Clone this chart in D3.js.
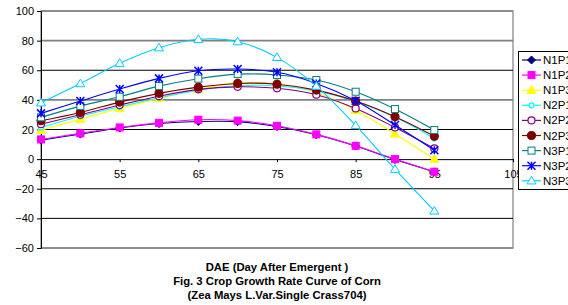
<!DOCTYPE html>
<html><head><meta charset="utf-8">
<script src="https://cdn.jsdelivr.net/npm/d3@7"></script>
<style>body{margin:0;background:#fff;}svg{display:block;font-family:"Liberation Sans",Arial,sans-serif;}</style>
</head><body>
<svg id="c" width="568" height="305"></svg>
<script>
const dae = [45,50,55,60,65,70,75,80,85,90,95];
const xTicks = [45,55,65,75,85,95,105];
const yTicks = [-60,-40,-20,0,20,40,60,80,100];
const seriesNames = ["N1P1","N1P2","N1P3","N2P1","N2P2","N2P3","N3P1","N3P2","N3P3"];
const N1P1 = [12.8,16.9,21.0,24.0,25.4,25.3,22.0,16.4,8.8,-0.3,-8.6];
const N1P2 = [13.3,17.4,21.4,24.5,26.6,26.0,22.5,16.7,9.0,0.0,-8.5];
const N1P3 = [19.5,27.0,34.2,41.0,47.0,51.5,50.5,45.0,33.0,17.0,0.0];
const N2P1 = [21.4,29.0,35.3,41.4,46.5,49.5,49.5,46.0,39.0,28.5,14.0];
const N2P2 = [23.6,30.0,36.5,42.5,47.1,48.8,47.8,43.5,34.2,21.4,7.2];
const N2P3 = [25.9,31.5,38.5,44.4,48.6,51.1,50.6,46.6,39.2,28.6,15.5];
const N3P1 = [28.2,35.8,42.1,49.3,54.3,57.4,56.8,53.4,45.5,33.8,19.6];
const N3P2 = [30.9,39.2,47.3,54.5,59.7,60.8,58.6,51.1,39.4,23.0,6.0];
const N3P3 = [38.0,51.0,64.7,75.2,80.9,79.3,68.7,49.3,22.8,-6.8,-35.0];
const titleLines = ["DAE (Day After Emergent )","Fig. 3 Crop Growth Rate Curve of Corn","(Zea Mays L.Var.Single Crass704)"];

const seriesData = [N1P1,N1P2,N1P3,N2P1,N2P2,N2P3,N3P1,N3P2,N3P3];
const styles = [
  {c:"#000080", m:"diamond", fill:true, s:4},
  {c:"#FF00FF", m:"square", fill:true, s:4},
  {c:"#FFFF00", m:"triangle", fill:true, s:4.5},
  {c:"#00FFFF", m:"circle", fill:false, s:2.5},
  {c:"#800080", m:"circle", fill:false, s:3.5},
  {c:"#800000", m:"circle", fill:true, s:4},
  {c:"#008080", m:"square", fill:false, s:4},
  {c:"#0000FF", m:"star", fill:false, s:4},
  {c:"#00CCFF", m:"triangle", fill:false, s:4.5}
];

const svg = d3.select("#c");
const L=41, R=513, T=11, B=248;
const x = d3.scaleLinear().domain([45,105]).range([L,R]);
const y = d3.scaleLinear().domain([-60,100]).range([B,T]);

svg.append("rect").attr("x",L).attr("y",T).attr("width",R-L).attr("height",B-T)
  .attr("fill","#fff").attr("stroke","#808080").attr("stroke-width",1.2);
svg.append("g").selectAll("line").data(yTicks.filter(d=>d!==0)).join("line")
  .attr("x1",L).attr("x2",R).attr("y1",d=>y(d)).attr("y2",d=>y(d))
  .attr("stroke",d=>(d===100||d===80||d===40||d===-60)?"#808080":"#000")
  .attr("stroke-width",d=>(d===100||d===80||d===40||d===-60)?1.6:1);

const yAxis = svg.append("g").attr("transform",`translate(${L},0)`)
  .call(d3.axisLeft(y).tickValues(yTicks).tickSize(4).tickPadding(3).tickFormat(d3.format("d")));
yAxis.select(".domain").attr("stroke","#000");
yAxis.selectAll("text").attr("font-size","11px").attr("fill","#000").attr("font-family","Liberation Sans, Arial, sans-serif");
const xAxis = svg.append("g").attr("transform",`translate(0,${y(0)})`)
  .call(d3.axisBottom(x).tickValues(xTicks).tickSize(3).tickPadding(8).tickFormat(d3.format("d")));
xAxis.select(".domain").attr("stroke","#000");
xAxis.selectAll("text").attr("font-size","11px").attr("fill","#000").attr("font-family","Liberation Sans, Arial, sans-serif");

function marker(g, st, px, py){
  const s = st.s;
  const fill = st.fill ? st.c : "#fff";
  if(st.m==="diamond"){
    g.append("path").attr("d",`M${px},${py-s}L${px+s},${py}L${px},${py+s}L${px-s},${py}Z`).attr("fill",fill).attr("stroke",st.c);
  } else if(st.m==="square"){
    g.append("rect").attr("x",px-s+0.5).attr("y",py-s+0.5).attr("width",2*s-1).attr("height",2*s-1).attr("fill",fill).attr("stroke",st.c);
  } else if(st.m==="triangle"){
    g.append("path").attr("d",`M${px},${py-s}L${px+s},${py+s*0.7}L${px-s},${py+s*0.7}Z`).attr("fill",fill).attr("stroke",st.c);
  } else if(st.m==="circle"){
    g.append("circle").attr("cx",px).attr("cy",py).attr("r",s).attr("fill",fill).attr("stroke",st.c).attr("stroke-width",1.2);
  } else if(st.m==="star"){
    g.append("path").attr("d",`M${px-s},${py-s}L${px+s},${py+s}M${px-s},${py+s}L${px+s},${py-s}M${px},${py-s}L${px},${py+s}`)
      .attr("stroke",st.c).attr("stroke-width",1.5).attr("fill","none");
  }
}

const line = d3.line().x((d,i)=>x(dae[i])).y(d=>y(d)).curve(d3.curveCatmullRom.alpha(0.5));
seriesData.forEach((vals,k)=>{
  const st = styles[k];
  const g = svg.append("g");
  g.append("path").datum(vals).attr("d",line).attr("fill","none").attr("stroke",st.c).attr("stroke-width",1.1);
  vals.forEach((v,i)=>marker(g, st, x(dae[i]), y(v)));
});

const lg = svg.append("g");
lg.append("rect").attr("x",518.5).attr("y",51.5).attr("width",70).attr("height",138)
  .attr("fill","#fff").attr("stroke","#000");
seriesNames.forEach((n,k)=>{
  const yy = 60 + k*15.1;
  const st = styles[k];
  lg.append("line").attr("x1",522).attr("x2",541).attr("y1",yy).attr("y2",yy).attr("stroke",st.c).attr("stroke-width",1.2);
  marker(lg, st, 531.5, yy);
  lg.append("text").attr("x",543).attr("y",yy+4).attr("font-size","11.5px").attr("fill","#000").text(n);
});

svg.append("g").selectAll("text").data(titleLines).join("text")
  .attr("x",277).attr("y",(d,i)=>271+i*13.8).attr("text-anchor","middle")
  .attr("font-size","11.3px").attr("font-weight","bold").attr("fill","#000").text(d=>d);
</script>
</body></html>
